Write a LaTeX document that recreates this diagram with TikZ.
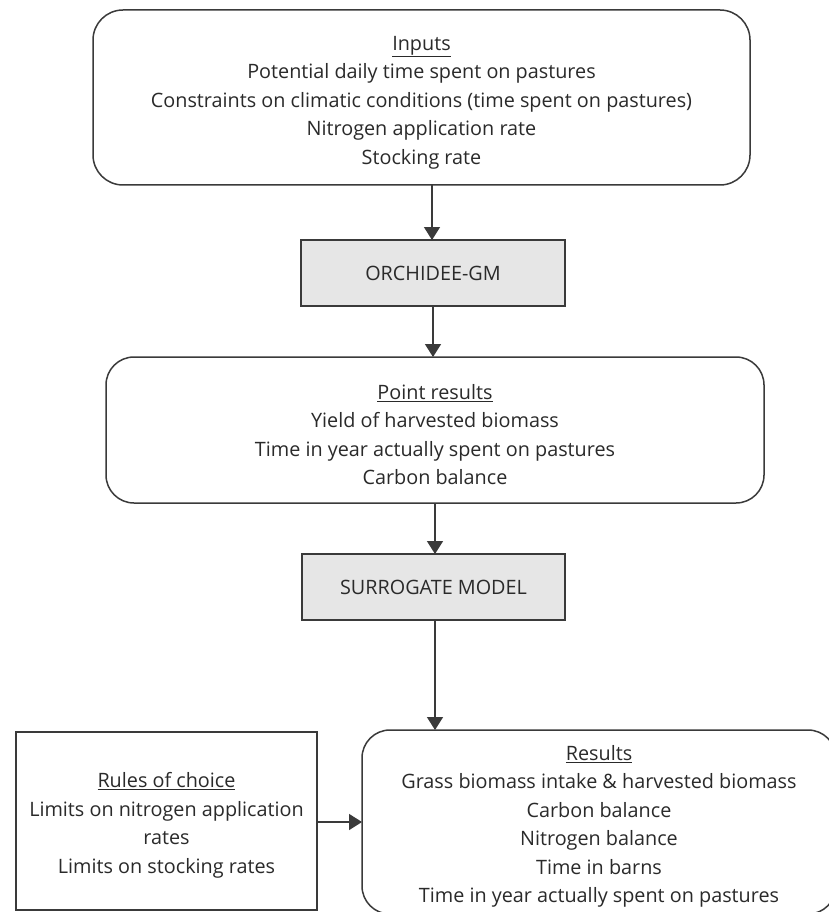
\documentclass[tikz,border=0pt]{standalone}
\usepackage{fontspec}
\setmainfont{Open Sans}
\usetikzlibrary{arrows.meta}
\definecolor{linec}{HTML}{3A3A3A}
\definecolor{textc}{HTML}{2A2A2A}
\definecolor{boxfill}{HTML}{E6E6E6}
\newcommand{\mytopstrut}{\rule{0pt}{24pt}}
\begin{document}
\begin{tikzpicture}[x=1pt,y=-1pt,
  every node/.style={inner sep=0pt, outer sep=0pt, text=textc,
    font=\fontsize{19.8}{28.5}\selectfont, align=center},
  roundbox/.style={draw=linec, line width=1.5pt, rounded corners=30pt, fill=white},
  squarebox/.style={draw=linec, line width=1.5pt, fill=white},
  modelbox/.style={draw=linec, line width=1.5pt, fill=boxfill},
  arr/.style={draw=linec, line width=1.5pt, -{Triangle[width=16pt,length=13pt]}}]
\useasboundingbox (0,0) rectangle (829,912);
\clip (0,0) rectangle (829,912);
\fill[white] (0,0) rectangle (829,912);

\node[roundbox, minimum width=657pt, minimum height=175pt] (inputs) at (421.5,97.5)
  {\mytopstrut\underline{Inputs}\\Potential daily time spent on pastures\\Constraints on climatic conditions (time spent on pastures)\\Nitrogen application rate\\Stocking rate};

\node[modelbox, minimum width=264pt, minimum height=66pt] (orch) at (433,273) {ORCHIDEE-GM};

\node[roundbox, rounded corners=28pt, minimum width=658pt, minimum height=146pt] (pr) at (435,430)
  {\mytopstrut\underline{Point results}\\Yield of harvested biomass\\Time in year actually spent on pastures\\Carbon balance};

\node[modelbox, minimum width=263pt, minimum height=66pt] (sur) at (433.5,587) {SURROGATE MODEL};

\node[roundbox, rounded corners=28pt, minimum width=474pt, minimum height=184pt] (res) at (599,822)
  {\mytopstrut\underline{Results}\\Grass biomass intake \& harvested biomass\\Carbon balance\\Nitrogen balance\\Time in barns\\Time in year actually spent on pastures};

\node[squarebox, minimum width=301pt, minimum height=178pt] (rules) at (166.5,821)
  {\mytopstrut\underline{Rules of choice}\\Limits on nitrogen application\\rates\\Limits on stocking rates};

\draw[arr] ([xshift=10.5pt]inputs.south) -- ([xshift=-1pt]orch.north);
\draw[arr] (orch.south) -- (orch.south |- pr.north);
\draw[arr] ([xshift=1.5pt]sur.north |- pr.south) -- ([xshift=1.5pt]sur.north);
\draw[arr] ([xshift=1.5pt]sur.south) -- ([xshift=1.5pt]sur.south |- res.north);
\draw[arr] ([yshift=-1pt]rules.east) -- ([yshift=-1pt]rules.east -| res.west);
\end{tikzpicture}
\end{document}
